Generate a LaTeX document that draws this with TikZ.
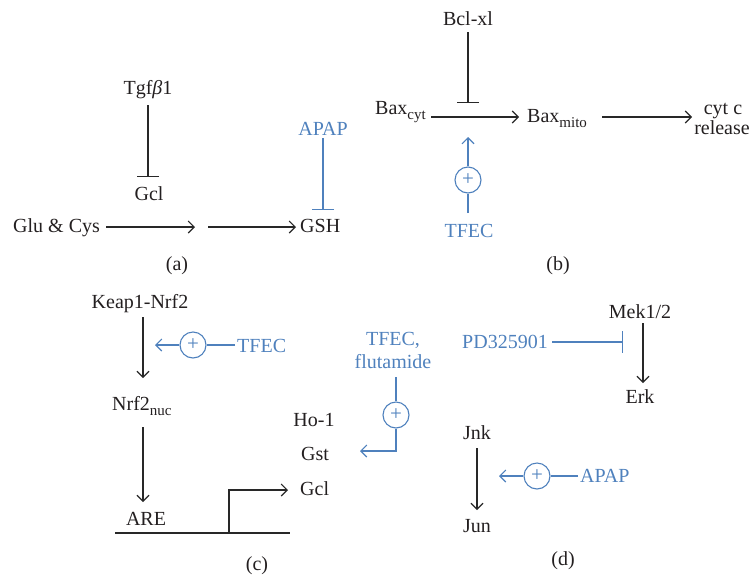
\documentclass[tikz,border=0pt]{standalone}
\usepackage{fontspec}
\setmainfont{Liberation Serif}
\usetikzlibrary{arrows.meta}
\definecolor{inkk}{RGB}{35,31,32}
\definecolor{linek}{RGB}{40,40,40}
\definecolor{blu}{RGB}{79,129,189}
\newcommand{\mysub}[1]{\raisebox{-0.28em}{\fontsize{15}{15}\selectfont #1}}
\begin{document}
\begin{tikzpicture}[x=1pt,y=-1pt,
  font=\fontsize{20}{23}\selectfont,
  lbl/.style={inner sep=0pt, text=inkk, anchor=base},
  blbl/.style={inner sep=0pt, text=blu, anchor=base},
  act/.style={draw=linek, line width=1.1pt, -{Straight Barb[length=6pt,width=12pt,line width=1.1pt]}},
  bact/.style={draw=blu, line width=1.1pt, -{Straight Barb[length=6pt,width=12pt,line width=1.1pt]}},
  inh/.style={draw=linek, line width=1.1pt, -{Bar[width=22pt,line width=1.1pt]}},
  binh/.style={draw=blu, line width=1.1pt, -{Bar[width=22pt,line width=1.1pt]}},
  bline/.style={draw=blu, line width=1.1pt},
  kline/.style={draw=linek, line width=1.1pt},
  plus/.style={circle, draw=blu, line width=1.1pt, minimum size=26pt, inner sep=0pt, text=blu, font=\fontsize{21}{21}\selectfont}
]
\useasboundingbox (0,0) rectangle (752,574);

% ---------- (a)
\node[lbl] (tgf) at (148,94) {Tgf{\itshape β}1};
\node[lbl] (gcla) at (149,200) {Gcl};
\node[lbl, anchor=base west] (glu) at (13,232) {Glu \& Cys};
\node[lbl, anchor=base west] (gsh) at (300,232) {GSH};
\node[blbl] (apapa) at (323,135) {APAP};
\node[lbl] (la) at (177,270) {(a)};
\coordinate (tgfS) at (148,105);
\coordinate (gclN) at (148,177);
\coordinate (gluE) at (106,227);
\coordinate (midW) at (195,227);
\coordinate (midE) at (208,227);
\coordinate (gshW) at (296,227);
\coordinate (apapaS) at (323,138);
\coordinate (gshN) at (323,210);
\draw[inh] (tgfS) -- (gclN);
\draw[act] (gluE) -- (midW);
\draw[act] (midE) -- (gshW);
\draw[binh] (apapaS) -- (gshN);

% ---------- (b)
\node[lbl] (bcl) at (468,25) {Bcl-xl};
\node[lbl, anchor=base west] (baxc) at (375,114) {Bax\mysub{cyt}};
\node[lbl, anchor=base west] (baxm) at (527,122) {Bax\mysub{mito}};
\node[lbl] (cytc) at (723,114) {cyt c};
\node[lbl] (rel) at (722,134) {release};
\node[blbl] (tfecb) at (469,237) {TFEC};
\node[lbl] (lb) at (558,270) {(b)};
\node[plus] (pb) at (468,180) {+};
\coordinate (bclS) at (468,32);
\coordinate (bclT) at (468,103);
\coordinate (baxcE) at (431,117);
\coordinate (baxmW) at (519,117);
\coordinate (baxmE) at (602,117);
\coordinate (cytW) at (692,117);
\coordinate (pbT) at (468,137);
\coordinate (tfecbN) at (468,213);
\draw[inh] (bclS) -- (bclT);
\draw[act] (baxcE) -- (baxmW);
\draw[act] (baxmE) -- (cytW);
\draw[bact] (pb.north) -- (pbT);
\draw[bline] (tfecbN) -- (pb.south);

% ---------- (c)
\node[lbl] (keap) at (140,308) {Keap1-Nrf2};
\node[lbl, anchor=base west] (nrf) at (112,410) {Nrf2\mysub{nuc}};
\node[lbl] (are) at (146,525) {ARE};
\node[lbl] (ho) at (314,426) {Ho-1};
\node[lbl] (gst) at (315,460) {Gst};
\node[lbl, anchor=base west] (gclc) at (300,495) {Gcl};
\node[blbl, anchor=base west] (tfecc) at (237,352) {TFEC};
\node[blbl] (tfecf) at (393,345) {TFEC,};
\node[blbl] (flut) at (393,368) {flutamide};
\node[lbl] (lc) at (257,570) {(c)};
\node[plus] (pc1) at (193,345) {+};
\node[plus] (pc2) at (396,415) {+};
\coordinate (keapS) at (143,317);
\coordinate (nrfN) at (143,378);
\coordinate (nrfS) at (143,427);
\coordinate (areN) at (143,502);
\coordinate (pc1T) at (155,345);
\coordinate (tfeccW) at (235,345);
\coordinate (dnaL) at (115,533);
\coordinate (dnaR) at (290,533);
\coordinate (tss) at (229,533);
\coordinate (gclcW) at (288,490);
\coordinate (flutS) at (396,377);
\coordinate (pc2T) at (360,451);
\draw[act] (keapS) -- (nrfN);
\draw[act] (nrfS) -- (areN);
\draw[bact] (pc1.west) -- (pc1T);
\draw[bline] (tfeccW) -- (pc1.east);
\draw[kline] (dnaL) -- (dnaR);
\draw[act] (tss) |- (gclcW);
\draw[bline] (flutS) -- (pc2.north);
\draw[bact] (pc2.south) |- (pc2T);

% ---------- (d)
\node[lbl] (mek) at (640,318) {Mek1/2};
\node[lbl] (erk) at (640,403) {Erk};
\node[blbl, anchor=base east] (pd) at (548,348) {PD325901};
\node[lbl] (jnk) at (477,439) {Jnk};
\node[lbl] (jun) at (477,532) {Jun};
\node[blbl, anchor=base west] (apapd) at (580,482) {APAP};
\node[lbl] (ld) at (563,565) {(d)};
\node[plus] (pd1) at (537,476) {+};
\coordinate (mekS) at (643,323);
\coordinate (erkN) at (643,383);
\coordinate (pdE) at (552,342);
\coordinate (mekT) at (623,342);
\coordinate (jnkS) at (477,448);
\coordinate (junN) at (477,510);
\coordinate (pd1T) at (499,476);
\coordinate (apapdW) at (578,476);
\draw[act] (mekS) -- (erkN);
\draw[binh] (pdE) -- (mekT);
\draw[act] (jnkS) -- (junN);
\draw[bact] (pd1.west) -- (pd1T);
\draw[bline] (apapdW) -- (pd1.east);
\end{tikzpicture}
\end{document}
